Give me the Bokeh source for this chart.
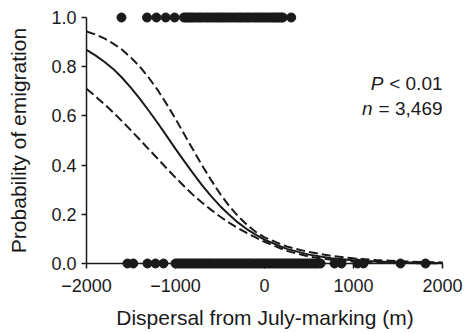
from bokeh.plotting import figure
from bokeh.models import Range1d, FixedTicker, ColumnDataSource
from bokeh.core.properties import value
from bokeh.embed import file_html
from bokeh.resources import INLINE

# Observations: emigrated (1) and stayed (0), dispersal distance (m)
emig_x = [-1607, -1320, -1215, -1110, -1010, -905, -880, -860, -835, -815, -790, -760,
          -735, -710, -685, -655, -630, -600, -575, -550, -525, -500, -475, -450, -420,
          -395, -370, -340, -315, -290, -265, -240, -210, -185, -160, -130, -105, -80,
          -55, -30, -5, 20, 45, 70, 95, 115, 140, 160, 185, 205, 300]
stay_x = [-1540, -1475, -1315, -1225, -1135, -1000, -975, -950, -925, -900, -875, -850,
          -825, -800, -775, -750, -725, -700, -675, -650, -625, -600, -575, -550, -525,
          -500, -475, -450, -425, -400, -375, -350, -325, -300, -275, -250, -225, -200,
          -175, -150, -125, -100, -75, -50, -25, 0, 25, 50, 75, 100, 125, 150, 175, 200,
          225, 250, 275, 300, 325, 350, 375, 400, 425, 450, 475, 500, 525, 550, 575, 600,
          630, 787, 865, 1045, 1112, 1528, 1809]

# Fitted logistic curve and 95% limits
fit_x = [-2000, -1900, -1800, -1700, -1600, -1500, -1400, -1300, -1200, -1100, -1000,
         -900, -800, -700, -600, -500, -400, -300, -200, -100, 0, 250, 500, 750, 1000,
         1250, 1500, 1750, 2000]
fit_mid = [0.868, 0.846, 0.820, 0.791, 0.755, 0.714, 0.669, 0.621, 0.571, 0.519, 0.466,
           0.415, 0.365, 0.318, 0.274, 0.234, 0.199, 0.167, 0.140, 0.117, 0.0967, 0.0595,
           0.0361, 0.0217, 0.0129, 0.0077, 0.0046, 0.0027, 0.0016]
fit_hi = [0.943, 0.931, 0.915, 0.894, 0.869, 0.837, 0.800, 0.755, 0.705, 0.648, 0.588,
          0.524, 0.461, 0.398, 0.339, 0.284, 0.235, 0.193, 0.158, 0.129, 0.106, 0.0689,
          0.0463, 0.0312, 0.0209, 0.0140, 0.0094, 0.0063, 0.0042]
fit_lo = [0.710, 0.680, 0.648, 0.614, 0.578, 0.541, 0.503, 0.464, 0.426, 0.387, 0.349,
          0.313, 0.278, 0.247, 0.218, 0.191, 0.166, 0.144, 0.124, 0.106, 0.0883, 0.0514,
          0.0281, 0.0150, 0.0080, 0.0042, 0.0022, 0.0012, 0.0006]

x_ticks = [-2000, -1000, 0, 1000, 2000]
y_ticks = [0.0, 0.2, 0.4, 0.6, 0.8, 1.0]
y_tick_labels = {0.0: "0.0", 0.2: "0.2", 0.4: "0.4", 0.6: "0.6", 0.8: "0.8", 1.0: "1.0"}
x_tick_labels = {-2000: "\u22122000", -1000: "\u22121000", 0: "0", 1000: "1000", 2000: "2000"}

FONT = "Liberation Sans"
INK = "#1a1a1a"

p = figure(width=465, height=333, x_range=Range1d(-2045, 2056),
           y_range=Range1d(-0.0244, 1.0244), output_backend="svg",
           toolbar_location=None, min_border_left=82, min_border_right=18,
           min_border_top=11, min_border_bottom=64)
p.outline_line_color = None
p.xgrid.visible = False
p.ygrid.visible = False

for ax in (p.xaxis[0], p.yaxis[0]):
    ax.major_label_text_font = FONT
    ax.major_label_text_font_size = "18px"
    ax.major_label_text_color = INK
    ax.axis_label_text_font = FONT
    ax.axis_label_text_font_size = "21px"
    ax.axis_label_text_font_style = "normal"
    ax.axis_label_text_color = INK
    ax.axis_line_color = None
    ax.major_tick_line_width = 1.5
    ax.major_tick_line_color = INK
    ax.minor_tick_line_color = None

p.xaxis.ticker = FixedTicker(ticks=x_ticks)
p.xaxis.major_label_overrides = x_tick_labels
p.xaxis.axis_label = "Dispersal from July-marking (m)"
p.xaxis.major_tick_in = 6
p.xaxis.major_tick_out = -1
p.xaxis.major_label_standoff = 9
p.xaxis.axis_label_standoff = 11

p.yaxis.ticker = FixedTicker(ticks=y_ticks)
p.yaxis.major_label_overrides = y_tick_labels
p.yaxis.axis_label = "Probability of emigration"
p.yaxis.major_tick_in = 4
p.yaxis.major_tick_out = 1
p.yaxis.major_label_standoff = 5
p.yaxis.axis_label_standoff = 18

# axis spines through the origin of the data area
p.segment(x0=[x_ticks[0]], y0=[y_ticks[0]], x1=[x_ticks[-1]], y1=[y_ticks[0]],
          line_color=INK, line_width=1.5)
p.segment(x0=[x_ticks[0]], y0=[y_ticks[0]], x1=[x_ticks[0]], y1=[y_ticks[-1]],
          line_color=INK, line_width=1.5)

src = ColumnDataSource(dict(x=fit_x, mid=fit_mid, hi=fit_hi, lo=fit_lo))
p.line("x", "mid", source=src, line_color=INK, line_width=2)
p.line("x", "hi", source=src, line_color=INK, line_width=2, line_dash="9 4")
p.line("x", "lo", source=src, line_color=INK, line_width=2, line_dash="9 4")

p.scatter(emig_x, [1] * len(emig_x), size=9, color=INK)
p.scatter(stay_x, [0] * len(stay_x), size=9, color=INK)

p.text(x=[2000], y=[0.732], text=["< 0.01"], text_align="right", text_baseline="middle",
       text_font=value(FONT), text_font_size="19px", text_color=INK)
p.text(x=[2000], y=[0.732], text=["P"], text_align="right", text_baseline="middle",
       x_offset=-59, text_font=value(FONT), text_font_size="19px",
       text_font_style="italic", text_color=INK)
p.text(x=[2000], y=[0.630], text=["= 3,469"], text_align="right", text_baseline="middle",
       text_font=value(FONT), text_font_size="19px", text_color=INK)
p.text(x=[2000], y=[0.630], text=["n"], text_align="right", text_baseline="middle",
       x_offset=-70, text_font=value(FONT), text_font_size="19px",
       text_font_style="italic", text_color=INK)

open("out.html", "w").write(file_html(p, INLINE))
